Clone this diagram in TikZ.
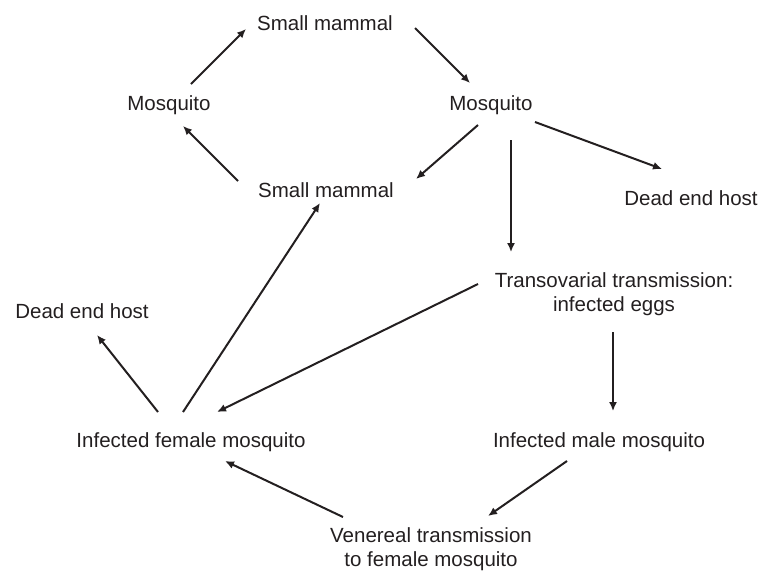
\documentclass[tikz,border=0pt]{standalone}
\usepackage{fontspec}
\setmainfont{Liberation Sans}
\usetikzlibrary{arrows.meta,calc}
\definecolor{ink}{RGB}{35,31,32}
\tikzstyle{txt} = [inner sep=0pt, anchor=base, text=ink, font=\fontsize{20.5}{24}\selectfont]
\tikzstyle{txttwo} = [txt, anchor=north, align=center]
\tikzstyle{link} = [draw=ink, line width=2pt, -{Latex[length=9pt,width=8pt]}]

\begin{document}
\begin{tikzpicture}[x=1pt, y=-1pt]
    \path[use as bounding box] (0,0) rectangle (775,571);
    \node[txt] (smT) at (325,30) {Small mammal};
    \node[txt] (mosL) at (169,110) {Mosquito};
    \node[txt] (mosR) at (491,110) {Mosquito};
    \node[txt] (smM) at (326,197) {Small mammal};
    \node[txt] (deadR) at (691,205) {Dead end host};
    \node[txttwo] (trans) at (614,272) {Transovarial transmission:\\infected eggs};
    \node[txt] (deadL) at (82,318) {Dead end host};
    \node[txt] (female) at (191,447) {Infected female mosquito};
    \node[txt] (male) at (599,447) {Infected male mosquito};
    \node[txttwo] (ven) at (431,527) {Venereal transmission\\to female mosquito};

    \path[link] ($(mosL.base)+(22,-26)$) -- ($(smT.base)+(-79,-1)$);
    \path[link] ($(smT.base)+(90,-2)$) -- ($(mosR.base)+(-21,-27)$);
    \path[link] ($(smM.base)+(-88,-16)$) -- ($(mosL.base)+(14,16)$);
    \path[link] ($(mosR.base)+(-13,15)$) -- ($(smM.base)+(90,-18)$);
    \path[link] ($(mosR.base)+(44,12)$) -- ($(deadR.base)+(-29,-36)$);
    \path[link, line width=1.6pt] ($(mosR.base)+(20,30)$) -- ($(trans.north)+(-103,-20)$);
    \path[link] ($(trans.north)+(-136,12)$) -- ($(female.base)+(26,-35)$);
    \path[link, line width=1.6pt] ($(trans.north)+(-1,60)$) -- ($(male.base)+(14,-36)$);
    \path[link] ($(female.base)+(-33,-35)$) -- ($(deadL.base)+(15,17)$);
    \path[link] ($(female.base)+(-8,-35)$) -- ($(smM.base)+(-6,6)$);
    \path[link] ($(male.base)+(-32,14)$) -- ($(ven.north)+(57,-11)$);
    \path[link] ($(ven.north)+(-88,-10)$) -- ($(female.base)+(34,14)$);
\end{tikzpicture}
\end{document}
